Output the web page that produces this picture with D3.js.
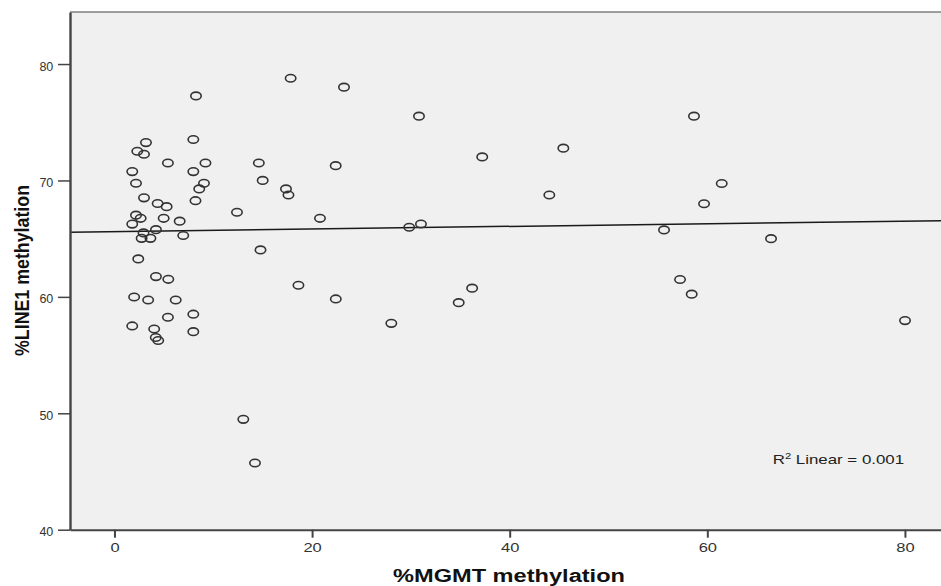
<!DOCTYPE html>
<html>
<head>
<meta charset="utf-8">
<script src="https://cdnjs.cloudflare.com/ajax/libs/d3/7.8.5/d3.min.js"></script>
<style>
    body { margin: 0; background: #ffffff; }
    text { font-family: "Liberation Sans", Arial, sans-serif; }
</style>
</head>
<body>
<script>
// data
let mgmt = [17.83, 8.25, 3.19, 2.31, 2.99, 7.98, 5.41, 9.21, 14.61, 1.80,
            7.98, 15.0, 2.18, 9.06, 8.58, 17.36, 17.61, 2.99, 8.20, 4.37,
            5.28, 12.40, 2.18, 2.65, 4.98, 1.80, 6.60, 20.80, 2.94, 4.20,
            2.75, 3.64, 6.96, 14.78, 2.41, 4.20, 5.45, 18.62, 1.99, 3.41,
            6.20, 5.41, 7.98, 1.80, 4.02, 4.18, 4.43, 7.98, 13.04, 14.22,
            22.39, 22.40, 23.23, 30.82, 45.43, 37.22, 44.01, 29.83, 31.02, 36.20,
            34.84, 28.02, 58.65, 61.46, 59.67, 55.62, 66.45, 57.24, 58.42, 80.01];
let line1 = [78.78, 77.26, 73.25, 72.51, 72.25, 73.52, 71.50, 71.50, 71.50, 70.76,
             70.76, 70.0, 69.76, 69.76, 69.27, 69.27, 68.75, 68.51, 68.26, 68.02,
             67.75, 67.27, 67.02, 66.75, 66.75, 66.25, 66.50, 66.75, 65.49, 65.77,
             65.03, 65.03, 65.27, 64.03, 63.26, 61.74, 61.51, 61.0, 59.99, 59.73,
             59.73, 58.25, 58.51, 57.50, 57.24, 56.51, 56.25, 57.01, 49.48, 45.73,
             71.27, 59.82, 78.01, 75.52, 72.77, 72.02, 68.75, 65.98, 66.26, 60.75,
             59.50, 57.73, 75.52, 69.74, 68.0, 65.75, 65.0, 61.49, 60.23, 57.96];
let xTicks = [0, 20, 40, 60, 80];
let yTicks = [40, 50, 60, 70, 80];
let xTitle = '%MGMT methylation';
let yTitle = '%LINE1 methylation';
let r2Value = '0.001';

//---------------------------------------------------------------------------------------------------//

let margin = { top: 12, left: 70 };
let width = 871, height = 517.7;

let svg = d3.select('body').append('svg').attr('width', 941).attr('height', 586);
let chart = svg.append('g').attr('transform', 'translate(' + margin.left + ',' + margin.top + ')');

let x = d3.scaleLinear().domain([-4.5, 83.65]).range([0, width]);
let y = d3.scaleLinear().domain([40, 84.47]).range([height, 0]);

// plot background + top border
chart.append('rect')
    .attr('x', 0).attr('y', 0)
    .attr('width', width + 10).attr('height', height)
    .attr('fill', '#f0f0f0');
chart.append('line')
    .attr('x1', 0).attr('x2', width + 10)
    .attr('y1', 0).attr('y2', 0)
    .attr('stroke', '#444').attr('stroke-width', 1.2);

//---------------------------------------------------------------------------------------------------//
// fit line (least squares from the points)
let mx = d3.mean(mgmt), my = d3.mean(line1);
let sxy = d3.sum(mgmt, (v, i) => (v - mx) * (line1[i] - my));
let sxx = d3.sum(mgmt, v => (v - mx) * (v - mx));
let slope = sxy / sxx;
let intercept = my - slope * mx;
let fitX = x.domain();

chart.append('path')
    .attr('d', d3.line().x(d => x(d)).y(d => y(intercept + slope * d))(fitX))
    .attr('stroke', '#1a1a1a')
    .attr('stroke-width', 1.5)
    .attr('fill', 'none');

//---------------------------------------------------------------------------------------------------//
// points
chart.selectAll('ellipse').data(mgmt).enter().append('ellipse')
    .attr('cx', d => x(d))
    .attr('cy', (d, i) => y(line1[i]))
    .attr('rx', 5.2)
    .attr('ry', 3.8)
    .attr('fill', 'none')
    .attr('stroke', '#333')
    .attr('stroke-width', 1.6);

//---------------------------------------------------------------------------------------------------//
// axes
let yAxis = d3.axisLeft(y).tickValues(yTicks).tickSize(12).tickSizeOuter(0).tickPadding(4.7);
let xAxis = d3.axisBottom(x).tickValues(xTicks).tickSize(8).tickSizeOuter(0).tickPadding(5.5);

let yAxisGroup = chart.append('g').call(yAxis);
let xAxisGroup = chart.append('g').attr('transform', 'translate(0,' + height + ')').call(xAxis);

yAxisGroup.select('.domain').attr('stroke', '#444').attr('stroke-width', 2.4);
yAxisGroup.selectAll('.tick line').attr('stroke', '#444').attr('stroke-width', 1.5);
yAxisGroup.selectAll('.tick text')
    .attr('dy', '0.48em')
    .attr('font-size', '12.5px')
    .attr('fill', '#333')
    .style('font-family', '"Liberation Sans", Arial, sans-serif');

xAxisGroup.select('.domain').attr('stroke', '#444').attr('stroke-width', 2);
xAxisGroup.selectAll('.tick line').attr('stroke', '#444').attr('stroke-width', 2);
xAxisGroup.selectAll('.tick text')
    .attr('font-size', '12.5px')
    .attr('fill', '#333')
    .attr('transform', 'scale(1.32,1)')
    .style('font-family', '"Liberation Sans", Arial, sans-serif');

//---------------------------------------------------------------------------------------------------//
// titles
svg.append('text')
    .attr('x', 509).attr('y', 581.5)
    .attr('text-anchor', 'middle')
    .attr('font-size', '18px')
    .attr('font-weight', 'bold')
    .attr('fill', '#111')
    .attr('textLength', 232)
    .attr('lengthAdjust', 'spacingAndGlyphs')
    .text(xTitle);

svg.append('text')
    .attr('transform', 'translate(29,270.5) scale(1.25,1) rotate(-90)')
    .attr('text-anchor', 'middle')
    .attr('font-size', '16px')
    .attr('font-weight', 'bold')
    .attr('fill', '#111')
    .attr('textLength', 171)
    .attr('lengthAdjust', 'spacingAndGlyphs')
    .text(yTitle);

// R squared note
let r2 = svg.append('text')
    .attr('transform', 'translate(772.7,464.3) scale(1.25,1)')
    .attr('font-size', '13.5px')
    .attr('fill', '#222');
r2.append('tspan').text('R');
r2.append('tspan').attr('font-size', '9px').attr('dy', -5).text('2');
r2.append('tspan').attr('dy', 5).text(' Linear = ' + r2Value);
</script>
</body>
</html>
